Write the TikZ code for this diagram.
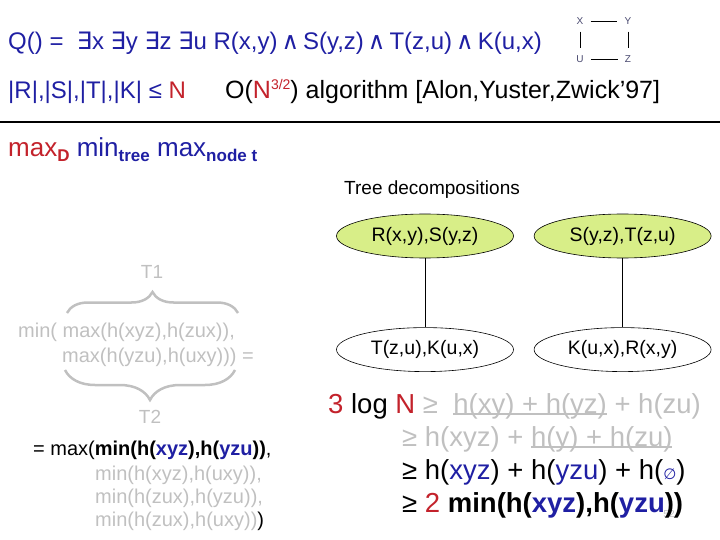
\documentclass[tikz,border=0pt]{standalone}
\usepackage{fontspec}
\setmainfont{Liberation Sans}
\newfontfamily\symfont{DejaVu Sans}
\usetikzlibrary{positioning,shapes.geometric,decorations.pathreplacing}
\definecolor{QBlue}{HTML}{1F1FA3}
\definecolor{QRed}{HTML}{C3222B}
\definecolor{Faded}{HTML}{C0C0C0}
\definecolor{BagGreen}{HTML}{D8EE88}
\definecolor{VarGray}{HTML}{4A4A70}
\newcommand\exq{{\symfont ∃}}
\newcommand\andq{{\symfont ∧}}
\newcommand\fs[1]{\fontsize{#1}{#1}\selectfont}
\newcommand\ulbar[1]{\setbox0=\hbox{#1}\rlap{\rule[-2pt]{\wd0}{1.6pt}}\box0\relax}
\newcommand\lowidx[1]{\raisebox{-5pt}{\fs{17}\bfseries #1}}
\tikzset{
  headtext/.style={anchor=base west,inner sep=0pt,font=\fs{24}},
  lefttext/.style={anchor=base west,inner sep=0pt,font=\fs{20}},
  boundtext/.style={anchor=base west,inner sep=0pt,font=\fs{27.5}},
  bag/.style={ellipse,draw=black,line width=0.6pt,minimum width=177pt,
              minimum height=44pt,inner sep=0pt,font=\fs{19.5}},
  bagtop/.style={bag,fill=BagGreen},
  treeedge/.style={draw=black,line width=0.7pt},
  gvar/.style={font=\fs{10},text=VarGray,inner sep=3pt},
  gedge/.style={draw=black,line width=0.7pt,shorten <=4pt,shorten >=4pt},
  tbrace/.style={draw=Faded,line width=2.5pt,decorate,decoration={brace,amplitude=#1}}
}

\begin{document}
\begin{tikzpicture}[x=1pt,y=-1pt,node distance=20pt]
  \useasboundingbox (0,0) rectangle (720,540);
  \node[headtext,text=QBlue] (query) at (8,50)
    {Q() = \ \exq x \exq y \exq z \exq u R(x,y)\,\andq\,S(y,z)\,\andq\,T(z,u)\,\andq\,K(u,x)};
  \node[gvar] (gx) at (580,21) {X};
  \node[gvar] (gy) at (628,21) {Y};
  \node[gvar] (gu) at (580,59) {U};
  \node[gvar] (gz) at (628,59) {Z};
  \draw[gedge] (gx) -- (gy);
  \draw[gedge] (gx) -- (gu);
  \draw[gedge] (gy) -- (gz);
  \draw[gedge] (gu) -- (gz);
  \node[headtext,text=QBlue] (sizes) at (8,99) {|R|,|S|,|T|,|K| ≤ \textcolor{QRed}{N}};
  \node[headtext,font=\fs{25}] (agm) at (225,99)
    {O(\textcolor{QRed}{N\raisebox{9pt}{\fs{14}3/2}}) algorithm [Alon,Yuster,Zwick’97]};
  \coordinate (ruleL) at (0,122);
  \coordinate (ruleR) at (720,122);
  \draw[line width=1.2pt] (ruleL) -- (ruleR);
  \node[headtext,font=\fs{26}] (objective) at (8,157)
    {\textcolor{QRed}{max\lowidx{D}} \textcolor{QBlue}{min\lowidx{tree} max\lowidx{node t}}};

  \node[anchor=base west,inner sep=0pt,font=\fs{19}] (tdlabel) at (344,195) {Tree decompositions};
  \node[bagtop] (bagRS) at (425,236) {R(x,y),S(y,z)};
  \node[bagtop,right=of bagRS] (bagST) {S(y,z),T(z,u)};
  \node[bag,below=69pt of bagRS] (bagTK) {T(z,u),K(u,x)};
  \node[bag,below=69pt of bagST] (bagKR) {K(u,x),R(x,y)};
  \draw[treeedge] (bagRS) -- (bagTK);
  \draw[treeedge] (bagST) -- (bagKR);

  \node[text=Faded,font=\fs{19}] (tone) at (152,272) {T1};
  \coordinate (b1L) at (67,313);
  \coordinate (b1R) at (238,313);
  \draw[tbrace=21pt] (b1L) -- (b1R);
  \node[lefttext,text=Faded] (split1) at (18,337) {min( max(h(xyz),h(zux)),};
  \node[lefttext,text=Faded] (split2) at (62,362) {max(h(yzu),h(uxy))) =};
  \coordinate (b2L) at (65,370);
  \coordinate (b2R) at (235,370);
  \draw[tbrace=30pt] (b2R) -- (b2L);
  \node[text=Faded,font=\fs{19}] (ttwo) at (150,417) {T2};
  \node[lefttext] (pair0) at (33,455)
    {= max(\textbf{min(h(\textcolor{QBlue}{xyz}),h(\textcolor{QBlue}{yzu}))},};
  \node[lefttext,text=Faded] (pair1) at (95,480) {min(h(xyz),h(uxy)),};
  \node[lefttext,text=Faded] (pair2) at (95,503) {min(h(zux),h(yzu)),};
  \node[lefttext,text=Faded] (pair3) at (95,526) {min(h(zux),h(uxy))\textcolor{black}{)}};

  \node[text=Faded,font=\fs{10}] (slideno) at (669,514) {52};
  \node[boundtext] (bound1) at (328,413)
    {\textcolor{QRed}{3} log \textcolor{QRed}{N} \textcolor{Faded}{≥ \ \ulbar{h(xy) + h(yz)} + h(zu)}};
  \node[boundtext,text=Faded] (bound2) at (402,446) {≥ h(xyz) + \ulbar{h(y) + h(zu)}};
  \node[boundtext] (bound3) at (402,479)
    {≥ h(\textcolor{QBlue}{xyz}) + h(\textcolor{QBlue}{yzu}) + h({\fs{15}\symfont\textcolor{QBlue}{∅}})};
  \node[boundtext] (bound4) at (402,512)
    {≥ \textcolor{QRed}{2} \textbf{min(h(\textcolor{QBlue}{xyz}),h(\textcolor{QBlue}{yzu}))}};
\end{tikzpicture}
\end{document}
